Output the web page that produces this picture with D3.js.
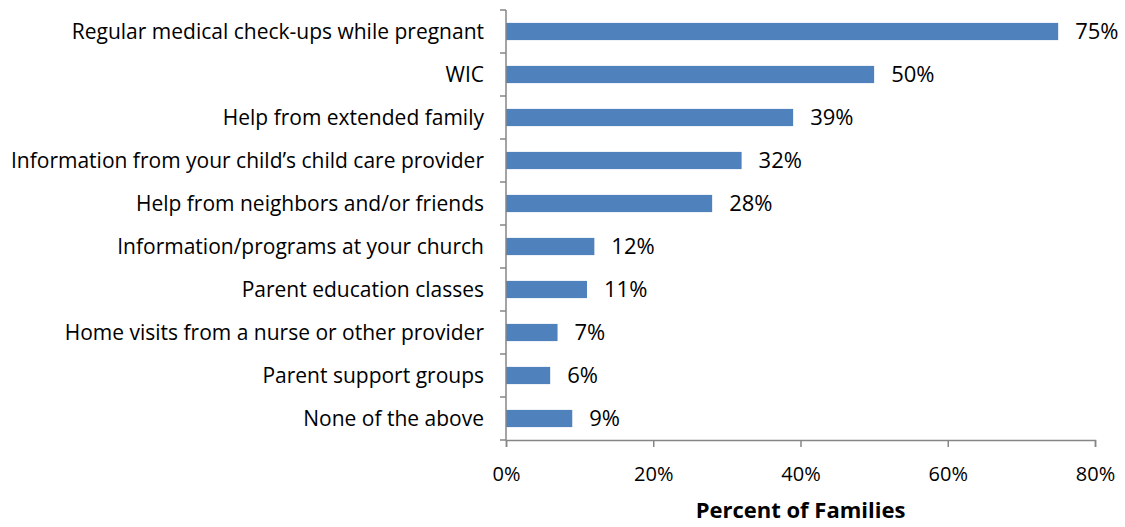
<!DOCTYPE html>
<html>
<head>
<meta charset="utf-8">
<script src="https://cdn.jsdelivr.net/npm/d3@7/dist/d3.min.js"></script>
<style>
  body { margin: 0; background: #fff; }
  svg text { font-family: "Open Sans", sans-serif; fill: #000; }
</style>
</head>
<body>
<svg id="chart" width="1125" height="527"></svg>
<script>
const categories = [
  "Regular medical check-ups while pregnant",
  "WIC",
  "Help from extended family",
  "Information from your child\u2019s child care provider",
  "Help from neighbors and/or friends",
  "Information/programs at your church",
  "Parent education classes",
  "Home visits from a nurse or other provider",
  "Parent support groups",
  "None of the above"
];
const values = [75, 50, 39, 32, 28, 12, 11, 7, 6, 9];
const xTicks = [0, 20, 40, 60, 80];
const xTitle = "Percent of Families";

const svg = d3.select("#chart");
const plotLeft = 506, plotRight = 1095, plotTop = 10, plotBottom = 440;

const x = d3.scaleLinear().domain([0, 80]).range([plotLeft, plotRight]);
const y = d3.scaleBand().domain(categories).range([plotTop, plotBottom]).paddingInner(0.6).paddingOuter(0.3);

const axisColor = "#868686";

// bars
svg.append("g").selectAll("rect").data(values).join("rect")
  .attr("x", x(0))
  .attr("y", (d, i) => y(categories[i]))
  .attr("width", d => x(d) - x(0))
  .attr("height", y.bandwidth())
  .attr("fill", "#4F81BD");

// value labels
svg.append("g").selectAll("text").data(values).join("text")
  .attr("x", d => x(d) + 17)
  .attr("y", (d, i) => y(categories[i]) + y.bandwidth() / 2)
  .attr("dy", "0.36em")
  .attr("font-size", 22)
  .text(d => d + "%");

// category labels
svg.append("g").selectAll("text").data(categories).join("text")
  .attr("x", plotLeft - 22)
  .attr("y", d => y(d) + y.bandwidth() / 2)
  .attr("dy", "0.36em")
  .attr("text-anchor", "end")
  .attr("font-size", 21)
  .text(d => d);

// y axis with category boundary ticks
const step = (plotBottom - plotTop) / categories.length;
const yAxis = svg.append("g").attr("stroke", axisColor).attr("stroke-width", 1.5);
yAxis.append("line").attr("x1", plotLeft).attr("x2", plotLeft).attr("y1", plotTop).attr("y2", plotBottom);
d3.range(categories.length + 1).forEach(i => {
  yAxis.append("line").attr("x1", plotLeft - 6).attr("x2", plotLeft)
    .attr("y1", plotTop + i * step).attr("y2", plotTop + i * step);
});

// x axis
const xAxis = svg.append("g").attr("transform", `translate(0,${plotBottom})`)
  .call(d3.axisBottom(x).tickValues(xTicks).tickSize(7).tickPadding(20).tickFormat(d => d + "%"));
xAxis.select(".domain").attr("stroke", axisColor).attr("stroke-width", 1.5);
xAxis.selectAll(".tick line").attr("stroke", axisColor).attr("stroke-width", 1.5);
xAxis.selectAll(".tick text").attr("font-size", 20).attr("font-family", "'Open Sans', sans-serif").attr("fill", "#000");

svg.append("text")
  .attr("x", x(40))
  .attr("y", 518)
  .attr("text-anchor", "middle")
  .attr("font-size", 22)
  .attr("font-weight", "bold")
  .text(xTitle);
</script>
</body>
</html>
